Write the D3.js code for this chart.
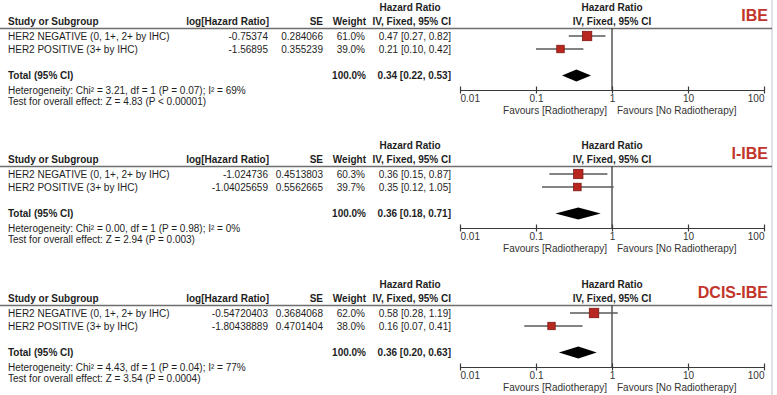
<!DOCTYPE html>
<html>
<head>
<meta charset="utf-8">
<script src="https://cdn.jsdelivr.net/npm/d3@7"></script>
<style>
body { margin: 0; background: #fff; }
svg { display: block; font-family: "Liberation Sans", Arial, sans-serif; }
</style>
</head>
<body>
<svg id="chart" width="777" height="395"></svg>
<script>
////////////////////////////////////////////////////////////
//////////////////////// Data //////////////////////////////
////////////////////////////////////////////////////////////

var panelNames = ["IBE", "I-IBE", "DCIS-IBE"];
var subgroups = ["HER2 NEGATIVE (0, 1+, 2+ by IHC)", "HER2 POSITIVE (3+ by IHC)"];
var logHR = [[-0.75374, -1.56895], [-1.024736, -1.04025659], [-0.54720403, -1.80438889]];
var seValues = [[0.284066, 0.355239], [0.4513803, 0.5562665], [0.3684068, 0.4701404]];
var weights = [[61.0, 39.0], [60.3, 39.7], [62.0, 38.0]];
var hr = [[0.47, 0.21], [0.36, 0.35], [0.58, 0.16]];
var hrLow = [[0.27, 0.10], [0.15, 0.12], [0.28, 0.07]];
var hrHigh = [[0.82, 0.42], [0.87, 1.05], [1.19, 0.41]];
var totalHR = [0.34, 0.36, 0.36];
var totalLow = [0.22, 0.18, 0.20];
var totalHigh = [0.53, 0.71, 0.63];
var heterogeneity = [
	"Heterogeneity: Chi² = 3.21, df = 1 (P = 0.07); I² = 69%",
	"Heterogeneity: Chi² = 0.00, df = 1 (P = 0.98); I² = 0%",
	"Heterogeneity: Chi² = 4.43, df = 1 (P = 0.04); I² = 77%"
];
var overallEffect = [
	"Test for overall effect: Z = 4.83 (P < 0.00001)",
	"Test for overall effect: Z = 2.94 (P = 0.003)",
	"Test for overall effect: Z = 3.54 (P = 0.0004)"
];
var axisTicks = [0.01, 0.1, 1, 10, 100];
var axisLabels = ["0.01", "0.1", "1", "10", "100"];

////////////////////////////////////////////////////////////
/////////////////////// Layout /////////////////////////////
////////////////////////////////////////////////////////////

var headerY = [28.5, 166.5, 305.5],	//y of the grey line under each column header
	rowY = [7.5, 20.5],			//centres of the two subgroup rows (relative)
	totalY = 47,
	hetY = 61.5,
	testY = 72.5,
	axisY = 61.5,
	textColor = "#1e1e1e";

var svg = d3.select("#chart");

var x = d3.scaleLog().domain([0.01, 100]).range([460, 764]);
var boxSize = d3.scaleSqrt().domain([0, 100]).range([0, 12]);

//light frame line on the right
svg.append("line")
	.attr("x1", 772).attr("x2", 772).attr("y1", 0).attr("y2", 395)
	.attr("stroke", "#d3d7df").attr("stroke-width", 1.5);

function txt(g, x0, y0, s, opts) {
	opts = opts || {};
	return g.append("text")
		.attr("x", x0).attr("y", y0)
		.attr("text-anchor", opts.anchor || "start")
		.attr("font-size", opts.size || 10)
		.attr("font-weight", opts.bold ? "bold" : "normal")
		.attr("fill", opts.color || textColor)
		.text(s);
}

panelNames.forEach(function(name, p) {
	var g = svg.append("g").attr("transform", "translate(0," + headerY[p] + ")");

	//Headers
	txt(g, 8, -3.5, "Study or Subgroup", {bold: true});
	txt(g, 269, -3.5, "log[Hazard Ratio]", {bold: true, anchor: "end"});
	txt(g, 323, -3.5, "SE", {bold: true, anchor: "end"});
	txt(g, 366, -3.5, "Weight", {bold: true, anchor: "end"});
	txt(g, 410, -17.5, "Hazard Ratio", {bold: true, anchor: "middle"});
	txt(g, 451, -3.5, "IV, Fixed, 95% CI", {bold: true, anchor: "end"});
	txt(g, x(1), -17.5, "Hazard Ratio", {bold: true, anchor: "middle"});
	txt(g, x(1), -3.5, "IV, Fixed, 95% CI", {bold: true, anchor: "middle"});
	txt(g, 768, -8, name, {bold: true, anchor: "end", size: 16, color: "#c2352b"});

	g.append("line")
		.attr("x1", 0).attr("x2", 772).attr("y1", 0).attr("y2", 0)
		.attr("stroke", "#6e6e6e").attr("stroke-width", 1.5);

	//Subgroup rows
	subgroups.forEach(function(s, i) {
		var yb = rowY[i] + 3.5;
		txt(g, 8, yb, s);
		txt(g, 268, yb, String(logHR[p][i]), {anchor: "end"});
		txt(g, 323, yb, String(seValues[p][i]), {anchor: "end"});
		txt(g, 365, yb, weights[p][i].toFixed(1) + "%", {anchor: "end"});
		txt(g, 451, yb, hr[p][i].toFixed(2) + " [" + hrLow[p][i].toFixed(2) + ", " + hrHigh[p][i].toFixed(2) + "]", {anchor: "end"});
	});

	//Total row
	txt(g, 8, totalY + 3.5, "Total (95% CI)", {bold: true});
	txt(g, 366, totalY + 3.5, "100.0%", {bold: true, anchor: "end"});
	txt(g, 451, totalY + 3.5, totalHR[p].toFixed(2) + " [" + totalLow[p].toFixed(2) + ", " + totalHigh[p].toFixed(2) + "]", {bold: true, anchor: "end"});
	txt(g, 8, hetY + 3.5, heterogeneity[p]);
	txt(g, 8, testY + 3.5, overallEffect[p]);

	//Line of no effect
	g.append("line")
		.attr("x1", x(1)).attr("x2", x(1)).attr("y1", 0).attr("y2", axisY)
		.attr("stroke", "#2a2a2a").attr("stroke-width", 1.2);

	//CI whiskers
	g.selectAll(".ci")
		.data(d3.range(subgroups.length))
		.enter().append("line")
		.attr("class", "ci")
		.attr("x1", function(i) { return x(hrLow[p][i]); })
		.attr("x2", function(i) { return x(hrHigh[p][i]); })
		.attr("y1", function(i) { return rowY[i]; })
		.attr("y2", function(i) { return rowY[i]; })
		.attr("stroke", "#5a5a5a").attr("stroke-width", 1.4);

	//Weighted squares
	g.selectAll(".box")
		.data(d3.range(subgroups.length))
		.enter().append("rect")
		.attr("class", "box")
		.attr("x", function(i) { return x(hr[p][i]) - boxSize(weights[p][i]) / 2; })
		.attr("y", function(i) { return rowY[i] - boxSize(weights[p][i]) / 2; })
		.attr("width", function(i) { return boxSize(weights[p][i]); })
		.attr("height", function(i) { return boxSize(weights[p][i]); })
		.attr("fill", "#b8271f").attr("stroke", "#7d1712").attr("stroke-width", 0.8);

	//Pooled diamond
	var dh = 6;
	g.append("path")
		.attr("d", "M" + x(totalLow[p]) + "," + totalY +
			"L" + x(totalHR[p]) + "," + (totalY - dh) +
			"L" + x(totalHigh[p]) + "," + totalY +
			"L" + x(totalHR[p]) + "," + (totalY + dh) + "Z")
		.attr("fill", "#000");

	//Axis
	var ax = g.append("g")
		.attr("transform", "translate(0," + axisY + ")")
		.call(d3.axisBottom(x).tickValues(axisTicks)
			.tickFormat(function(d, i) { return axisLabels[i]; })
			.tickSizeOuter(0));
	ax.attr("font-family", null).attr("font-size", null);
	ax.select(".domain").attr("stroke", "#3a3a3a").attr("stroke-width", 1.2);
	ax.selectAll(".tick line").attr("y1", -3.5).attr("y2", 3.5).attr("stroke", "#3a3a3a").attr("stroke-width", 1.2);
	ax.selectAll(".tick text")
		.attr("y", 12).attr("dy", null)
		.attr("font-size", 10).attr("fill", "#333")
		.attr("text-anchor", function(d, i) { return i === 0 ? "start" : (i === axisTicks.length - 1 ? "end" : "middle"); });

	txt(g, x(1) - 5, 85, "Favours [Radiotherapy]", {anchor: "end", color: "#333"});
	txt(g, x(1) + 5, 85, "Favours [No Radiotherapy]", {color: "#333"});
});
</script>
</body>
</html>
